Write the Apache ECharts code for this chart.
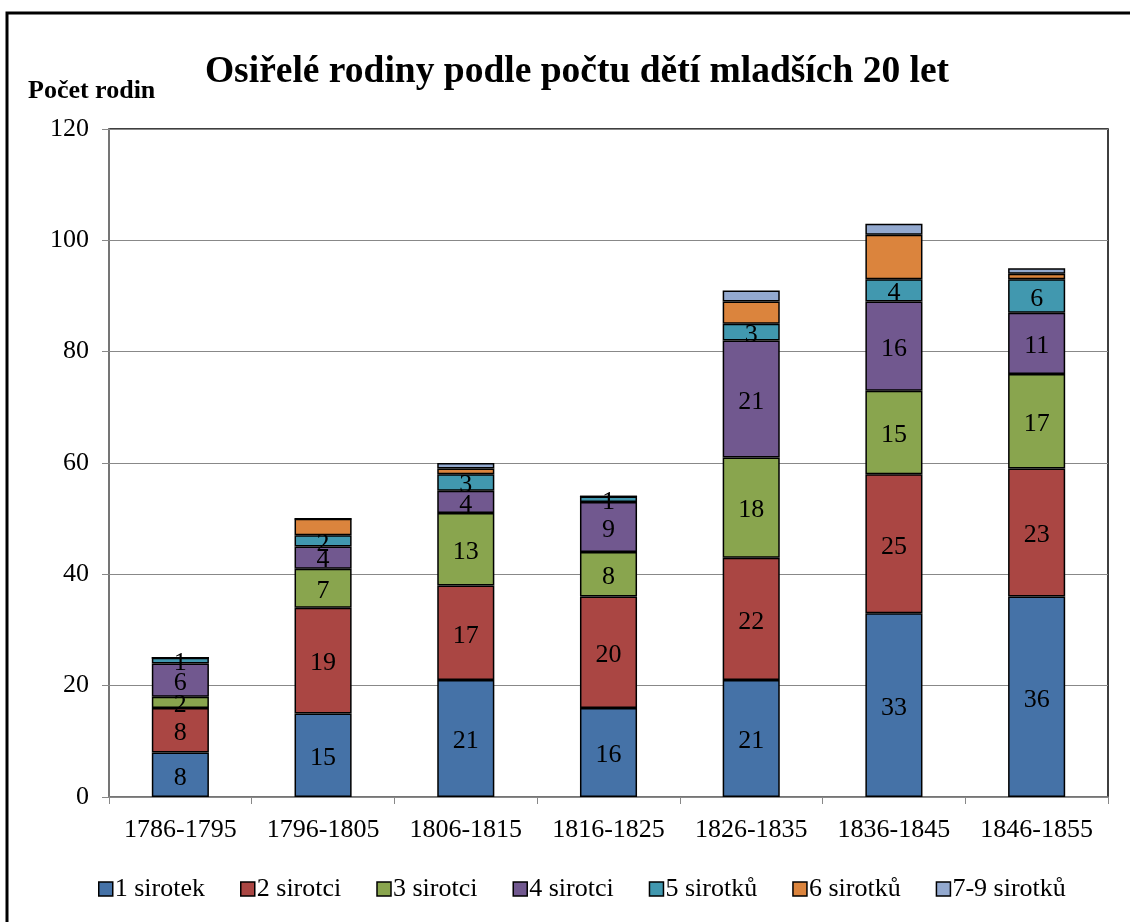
<!DOCTYPE html>
<html><head><meta charset="utf-8">
<script src="https://cdn.jsdelivr.net/npm/echarts@6/dist/echarts.min.js"></script>
<style>html,body{margin:0;padding:0;background:#fff}#c{width:1130px;height:922px}</style>
</head><body><div id="c"></div>
<script>
const categories = ['1786-1795','1796-1805','1806-1815','1816-1825','1826-1835','1836-1845','1846-1855'];
const seriesNames = ['1 sirotek','2 sirotci','3 sirotci','4 sirotci','5 sirotků','6 sirotků','7-9 sirotků'];
const s1 = [8, 15, 21, 16, 21, 33, 36];
const s2 = [8, 19, 17, 20, 22, 25, 23];
const s3 = [2, 7, 13, 8, 18, 15, 17];
const s4 = [6, 4, 4, 9, 21, 16, 11];
const s5 = [1, 2, 3, 1, 3, 4, 6];
const s6 = [0, 3, 1, 0, 4, 8, 1];
const s7 = [0, 0, 1, 0, 2, 2, 1];
const yTicks = [0, 20, 40, 60, 80, 100, 120];

const colors = ['#4572A7','#AA4643','#89A54E','#71588F','#4198AF','#DB843D','#93A9CF'];
const data = [s1,s2,s3,s4,s5,s6,s7];
const showLabel = [true,true,true,true,true,false,false];
const font = '"Liberation Serif","Times New Roman",serif';

const chart = echarts.init(document.getElementById('c'));
chart.setOption({
  animation: false,
  backgroundColor: '#fff',
  color: colors,
  title: {
    text: 'Osiřelé rodiny podle počtu dětí mladších 20 let',
    left: 572, textAlign: 'center', top: 48,
    textStyle: {fontFamily: font, fontSize: 37.5, fontWeight: 'bold', color: '#000'}
  },
  graphic: [
    {type: 'rect', shape: {x: 7, y: 13, width: 1200, height: 1000}, style: {fill: 'none', stroke: '#000', lineWidth: 3}},
    {type: 'text', left: 28, top: 78, style: {text: 'Počet rodin', font: 'bold 26px ' + font, fill: '#000'}}
  ],
  legend: {
    bottom: 15, left: 93,
    itemWidth: 14, itemHeight: 14, itemGap: 35,
    icon: 'rect',
    textStyle: {fontFamily: font, fontSize: 26, color: '#000', padding: [0,0,0,-3]},
    itemStyle: {borderColor: '#000', borderWidth: 1.5}
  },
  grid: {left: 109, right: 22, top: 129, bottom: 125, show: true, borderColor: '#000', borderWidth: 1.5, containLabel: false},
  xAxis: {
    type: 'category', data: categories,
    axisLine: {lineStyle: {color: '#888', width: 1.5}},
    axisTick: {show: true, length: 7, lineStyle: {color: '#888'}},
    axisLabel: {fontFamily: font, fontSize: 26, color: '#000', margin: 20, interval: 0}
  },
  yAxis: {
    type: 'value', min: yTicks[0], max: yTicks[yTicks.length-1], interval: 20,
    axisLine: {show: true, lineStyle: {color: '#888', width: 1.5}},
    axisTick: {show: true, length: 7, lineStyle: {color: '#888'}},
    splitLine: {lineStyle: {color: '#888', width: 1.2}},
    axisLabel: {fontFamily: font, fontSize: 26, color: '#000', margin: 20}
  },
  series: data.map((d, i) => ({
    name: seriesNames[i], type: 'bar', stack: 'a', data: d, barWidth: '40%',
    itemStyle: {color: colors[i], borderColor: '#000', borderWidth: 1.5},
    label: {
      show: showLabel[i], position: 'inside', color: '#000', offset: [0, 3],
      fontFamily: font, fontSize: 26,
      formatter: p => p.value > 0 ? String(p.value) : ''
    }
  }))
});
</script></body></html>
